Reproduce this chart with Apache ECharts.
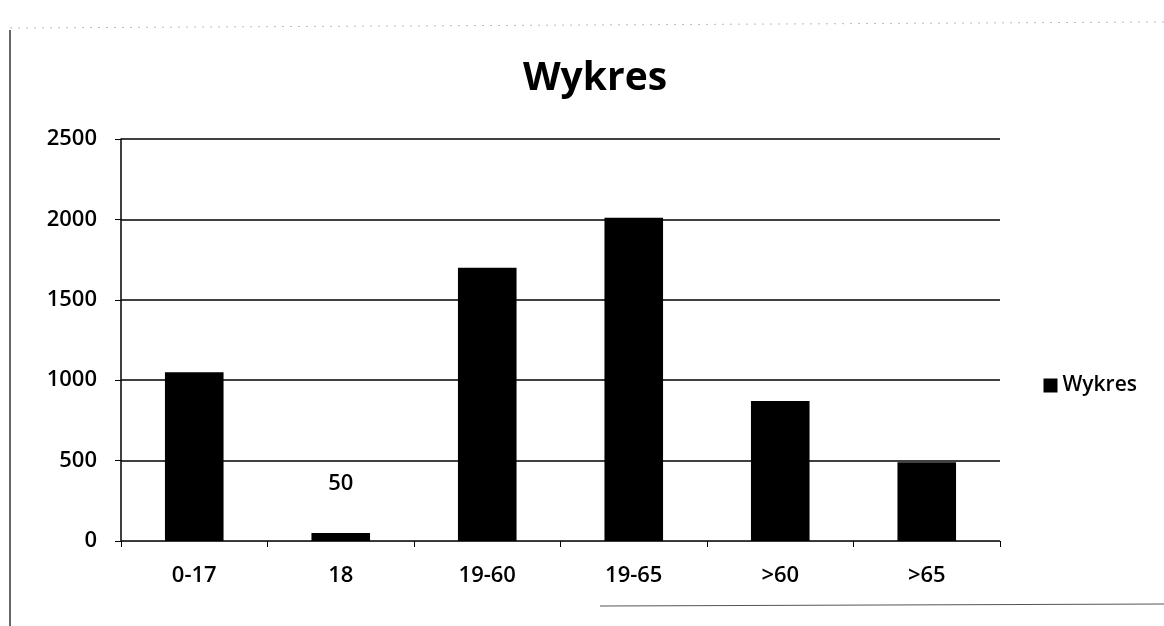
<!DOCTYPE html>
<html>
<head>
<meta charset="utf-8">
<script src="https://cdn.jsdelivr.net/npm/echarts@6/dist/echarts.min.js"></script>
<style>
  html, body { margin: 0; padding: 0; background: #fff; }
  #chart { width: 1164px; height: 626px; }
</style>
</head>
<body>
<div id="chart"></div>
<script>
var categories = ["0-17", "18", "19-60", "19-65", ">60", ">65"];
var values = [1050, 50, 1700, 2010, 870, 490];
var seriesName = "Wykres";
var labelled = [1]; // only the "18" bar has a data label

var chart = echarts.init(document.getElementById("chart"));
var font = "Open Sans";
var txt = { fontFamily: font, fontSize: 22, fontWeight: 600, color: "#000" };

var option = {
  backgroundColor: "#fff",
  title: {
    text: "Wykres",
    left: 590,
    top: 54,
    textAlign: "center",
    textStyle: { fontFamily: font, fontWeight: "bold", fontSize: 39, color: "#000" }
  },
  legend: {
    data: [seriesName],
    right: 22,
    top: 370,
    itemWidth: 14,
    itemHeight: 14,
    itemGap: 6,
    icon: "rect",
    textStyle: Object.assign({}, txt, { fontSize: 21 })
  },
  grid: { left: 121, right: 164, top: 139, bottom: 85 },
  xAxis: {
    type: "category",
    data: categories,
    axisLine: { lineStyle: { color: "#333", width: 1, type: "dotted" } },
    axisTick: { show: true, length: 6, lineStyle: { color: "#000" } },
    axisLabel: Object.assign({ margin: 24 }, txt)
  },
  yAxis: {
    type: "value",
    min: 0,
    max: 2500,
    interval: 500,
    axisLine: { show: true, lineStyle: { color: "#000", width: 1.5 } },
    axisTick: { show: true, length: 6, lineStyle: { color: "#000" } },
    axisLabel: Object.assign({ margin: 24, formatter: function (v) { return String(v); } }, txt),
    splitLine: { lineStyle: { color: "#000", width: 1.5 } }
  },
  series: [{
    name: seriesName,
    type: "bar",
    barWidth: "40%",
    itemStyle: { color: "#000" },
    data: values.map(function (v, i) {
      return labelled.indexOf(i) >= 0
        ? { value: v, label: Object.assign({ show: true, position: "top", distance: 38 }, txt) }
        : v;
    })
  }],
  graphic: [
    { type: "line", shape: { x1: 10, y1: 30, x2: 10, y2: 626 }, style: { stroke: "#333", lineWidth: 1.5 } },
    { type: "line", shape: { x1: 10, y1: 28, x2: 1164, y2: 22 }, style: { stroke: "#bbb", lineWidth: 1, lineDash: [2, 6] } },
    { type: "line", shape: { x1: 600, y1: 606, x2: 1164, y2: 604 }, style: { stroke: "#555", lineWidth: 1 } }
  ]
};
chart.setOption(option);
</script>
</body>
</html>
